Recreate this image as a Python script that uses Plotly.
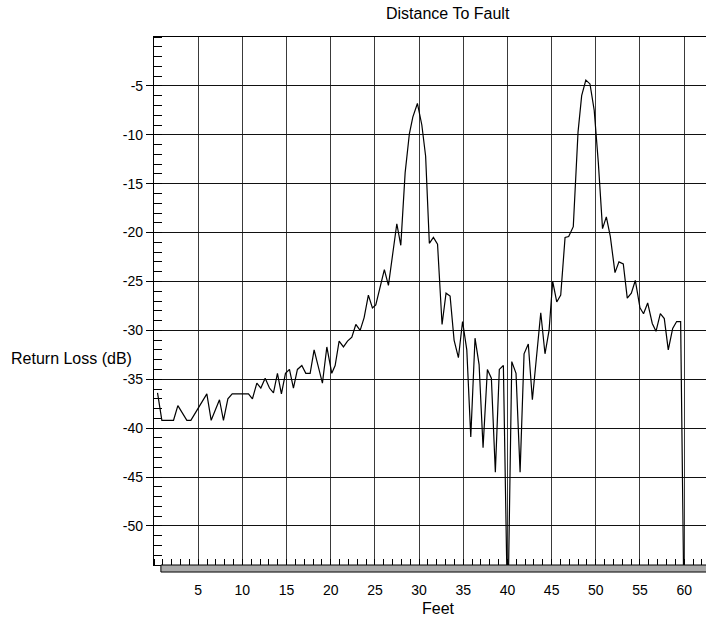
import plotly.graph_objects as go

feet = [0.40, 0.89, 2.21, 2.70, 3.72, 4.17, 5.98, 6.47, 7.41, 7.86, 8.36, 8.85,
        10.69, 11.14, 11.64, 12.09, 12.58, 13.07, 13.52, 13.97, 14.42, 14.88, 15.33,
        15.78, 16.23, 16.73, 17.18, 17.67, 18.12, 19.06, 19.56, 20.12, 20.50, 20.95,
        21.44, 21.90, 22.39, 22.84, 23.33, 23.78, 24.26, 24.72, 25.10, 25.59, 26.07,
        26.53, 26.98, 27.48, 27.93, 28.42, 28.90, 29.29, 29.81, 30.31, 30.74, 31.16,
        31.62, 32.09, 32.60, 33.05, 33.51, 33.96, 34.45, 34.92, 35.40, 35.85, 36.33,
        36.79, 37.24, 37.73, 38.18, 38.63, 39.08, 39.54, 40.03, 40.49, 40.97, 41.43,
        41.88, 42.36, 42.82, 43.77, 44.25, 44.71, 45.12, 45.58, 46.03, 46.52, 46.93,
        47.45, 47.99, 48.40, 48.87, 49.34, 49.82, 50.28, 50.76, 51.19, 51.64, 52.17,
        52.62, 53.11, 53.56, 54.02, 54.47, 55.00, 55.40, 55.87, 56.39, 56.81, 57.30,
        57.75, 58.20, 58.70, 59.15, 59.60, 60.00]

return_loss = [-36.4, -39.2, -39.2, -37.7, -39.2, -39.2, -36.5, -39.2, -37.1, -39.2,
               -37.0, -36.5, -36.5, -37.0, -35.4, -35.9, -34.9, -35.9, -36.4, -34.4,
               -36.5, -34.4, -34.0, -35.9, -34.0, -33.6, -34.4, -34.4, -32.0, -35.4,
               -31.7, -34.4, -33.6, -31.1, -31.7, -31.1, -30.7, -29.4, -30.0, -28.7,
               -26.4, -27.7, -27.4, -25.7, -23.8, -25.4, -22.5, -19.1, -21.3, -13.9,
               -9.9, -8.2, -6.8, -9.0, -12.2, -21.1, -20.5, -21.2, -29.4, -26.2,
               -26.5, -31.0, -32.8, -29.1, -32.0, -40.9, -30.8, -33.5, -42.0, -34.0,
               -34.9, -44.5, -34.0, -33.6, -60.0, -33.2, -34.4, -44.5, -32.4, -31.4,
               -37.1, -28.2, -32.4, -30.0, -25.0, -27.1, -26.4, -20.5, -20.4, -19.4,
               -9.7, -6.0, -4.4, -4.8, -7.5, -12.8, -19.6, -18.4, -20.4, -24.1,
               -23.0, -23.2, -26.7, -26.2, -24.9, -27.7, -28.3, -27.2, -29.3, -30.1,
               -28.3, -28.8, -32.0, -29.8, -29.1, -29.1, -60.0]

x_ticks = [5, 10, 15, 20, 25, 30, 35, 40, 45, 50, 55, 60]
y_ticks = [-5, -10, -15, -20, -25, -30, -35, -40, -45, -50]
y_tick_labels = [str(v) for v in y_ticks]

fig = go.Figure()
fig.add_trace(go.Scatter(x=feet, y=return_loss, mode="lines",
                         line=dict(color="black", width=1.2), showlegend=False))

font = dict(family="Liberation Sans, Arial, sans-serif", size=14, color="black")
label_font = dict(family="Liberation Sans, Arial, sans-serif", size=16, color="black")

fig.update_layout(
    width=706, height=617,
    margin=dict(l=154, r=0, t=37, b=52),
    paper_bgcolor="white", plot_bgcolor="white",
    font=font,
    xaxis=dict(
        range=[0, 62.47], tickvals=x_ticks, ticktext=[str(v) for v in x_ticks],
        showgrid=True, gridcolor="#3a3a3a", gridwidth=1.3,
        zeroline=False, showline=True, linecolor="black", linewidth=1.2, mirror=True,
        ticks="outside", ticklen=12, tickcolor="rgba(0,0,0,0)",
        minor=dict(dtick=1, tick0=0, ticks="inside", ticklen=6, tickcolor="black",
                   tickwidth=1, showgrid=False),
        tickfont=font,
    ),
    yaxis=dict(
        range=[-54, 0], tickvals=y_ticks, ticktext=y_tick_labels,
        showgrid=True, gridcolor="#111111", gridwidth=1.2,
        zeroline=False, showline=True, linecolor="black", linewidth=1.2,
        ticks="outside", ticklen=7, tickcolor="black", tickwidth=1,
        minor=dict(dtick=1, tick0=0, ticks="inside", ticklen=8, tickcolor="black",
                   tickwidth=1, showgrid=False),
        tickfont=font,
    ),
    shapes=[
        dict(type="rect", xref="paper", yref="paper",
             x0=0.0125, x1=1.002, y0=-0.0133, y1=0,
             fillcolor="#aaaaaa", line=dict(color="black", width=1)),
    ],
    annotations=[
        dict(text="Distance To Fault", xref="paper", yref="paper",
             x=(448 - 154) / 552, y=1 + 24 / 528, showarrow=False,
             xanchor="center", yanchor="middle", font=label_font),
        dict(text="Feet", xref="paper", yref="paper",
             x=(438 - 154) / 552, y=-(608 - 565) / 528, showarrow=False,
             xanchor="center", yanchor="middle", font=label_font),
        dict(text="Return Loss (dB)", xref="paper", yref="paper",
             x=-(154 - 9) / 552, y=(565 - 358) / 528, showarrow=False,
             xanchor="left", yanchor="middle", font=label_font),
    ],
)

fig.write_html("out.html")
